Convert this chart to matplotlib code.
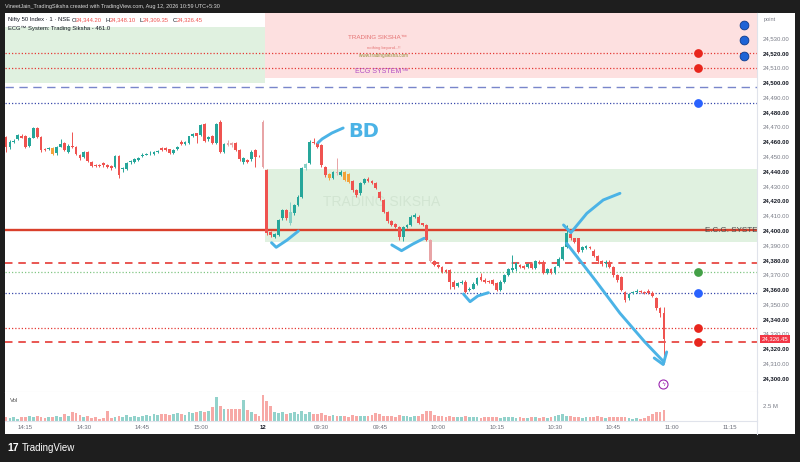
import matplotlib.pyplot as plt
import matplotlib.transforms as mtransforms
from matplotlib.patches import Rectangle
from matplotlib.lines import Line2D

plt.rcParams['font.family'] = ['Liberation Sans', 'DejaVu Sans']

W, H = 800, 462

# 1-minute Nifty 50 candles (prev. session 14:10-15:15, then 12th 09:15-10:58)
opens = [
    24463.2, 24456.4, 24459.8, 24461.6, 24463.8, 24463.8, 24457.1, 24462.5, 24468.9, 24463.2,
    24454.8, 24454.8, 24455.7, 24451.9, 24456.4, 24458.7, 24453.0, 24457.1, 24456.0, 24450.8,
    24449.6, 24452.6, 24446.2, 24444.0, 24444.2, 24445.2, 24444.0, 24443.3, 24442.9, 24450.3,
    24441.3, 24441.3, 24445.8, 24446.2, 24447.5, 24450.0, 24450.8, 24451.2, 24451.8, 24452.6,
    24455.7, 24455.7, 24454.6, 24452.3, 24454.6, 24459.6, 24458.0, 24459.1, 24464.0, 24465.5,
    24464.3, 24471.6, 24461.4, 24463.6, 24458.7, 24473.3, 24453.0, 24458.7, 24458.7, 24458.7,
    24454.2, 24446.2, 24447.4, 24447.9, 24454.2, 24450.3,
    24473.3, 24440.6, 24398.8, 24395.5, 24396.6, 24407.9, 24413.5, 24404.5, 24411.3, 24416.9,
    24422.5, 24441.8, 24445.2, 24459.8, 24458.7, 24457.5, 24442.9, 24437.7, 24435.0, 24439.1,
    24437.2, 24439.1, 24437.7, 24433.2, 24427.1, 24424.8, 24431.6, 24434.5, 24433.2, 24431.6,
    24425.5, 24420.3, 24412.4, 24406.1, 24403.9, 24402.2, 24395.5, 24402.2, 24403.4, 24409.0,
    24409.0, 24404.5, 24403.4, 24393.2, 24379.2, 24376.3, 24375.2, 24372.9, 24372.9, 24365.0,
    24362.3, 24364.3, 24365.0, 24359.4, 24360.5, 24363.9, 24368.0, 24366.6, 24365.7, 24366.1,
    24364.3, 24359.4, 24365.0, 24369.5, 24372.9, 24373.4, 24376.3, 24375.6, 24375.2, 24376.8,
    24374.1, 24378.5, 24378.5, 24370.7, 24373.4, 24370.7, 24375.6, 24380.2, 24388.7, 24397.3,
    24394.4, 24394.4, 24386.5, 24387.6, 24388.7, 24386.0, 24382.4, 24379.2, 24377.5, 24378.5,
    24375.2, 24369.5, 24368.0, 24358.2, 24353.8, 24357.6, 24358.2, 24358.9, 24358.2, 24358.7,
    24357.6, 24353.8, 24347.0, 24344.2,
]
closes = [
    24456.4, 24459.8, 24460.3, 24464.3, 24462.5, 24456.4, 24462.5, 24468.9, 24463.2, 24454.2,
    24454.2, 24455.7, 24451.2, 24456.4, 24458.0, 24454.2, 24457.1, 24456.4, 24451.2, 24448.5,
    24452.6, 24446.9, 24443.5, 24443.3, 24443.3, 24444.0, 24442.9, 24442.2, 24450.3, 24437.2,
    24442.2, 24445.2, 24446.7, 24447.9, 24448.5, 24451.0, 24451.5, 24451.8, 24452.6, 24453.3,
    24454.2, 24454.2, 24452.3, 24454.2, 24456.4, 24458.2, 24459.6, 24463.6, 24465.0, 24463.6,
    24471.1, 24460.5, 24463.2, 24458.7, 24471.8, 24453.0, 24458.2, 24457.6, 24457.6, 24454.2,
    24447.9, 24448.5, 24446.2, 24453.0, 24449.6, 24449.9,
    24442.9, 24397.8, 24396.6, 24397.1, 24406.8, 24413.5, 24407.9, 24412.4, 24416.9, 24422.5,
    24441.8, 24444.5, 24459.8, 24458.7, 24456.4, 24444.0, 24437.2, 24435.0, 24439.1, 24438.4,
    24439.5, 24433.9, 24432.7, 24427.1, 24423.7, 24431.6, 24434.5, 24433.2, 24431.6, 24428.2,
    24421.5, 24412.4, 24406.1, 24403.4, 24402.2, 24395.5, 24402.2, 24403.4, 24409.0, 24410.2,
    24404.5, 24403.4, 24393.2, 24379.0, 24376.3, 24375.2, 24371.8, 24371.8, 24365.0, 24361.6,
    24364.3, 24365.0, 24358.2, 24360.5, 24363.9, 24367.7, 24366.1, 24365.0, 24365.0, 24363.9,
    24359.4, 24365.0, 24369.5, 24373.4, 24374.1, 24377.5, 24375.2, 24374.7, 24376.8, 24374.1,
    24379.2, 24377.9, 24370.7, 24373.4, 24370.7, 24375.2, 24380.8, 24388.7, 24397.8, 24394.4,
    24392.1, 24385.3, 24388.3, 24389.2, 24387.6, 24382.4, 24379.2, 24377.0, 24378.5, 24375.2,
    24369.5, 24366.1, 24359.4, 24352.6, 24356.7, 24358.2, 24358.9, 24358.2, 24357.6, 24357.6,
    24355.3, 24347.0, 24344.2, 24326.45,
]
highs = [
    24464.0, 24461.0, 24461.5, 24465.0, 24465.0, 24464.5, 24463.0, 24469.5, 24469.5, 24463.5,
    24455.5, 24456.5, 24456.0, 24457.0, 24461.6, 24459.5, 24458.0, 24466.5, 24457.0, 24451.5,
    24453.5, 24453.5, 24447.0, 24445.0, 24445.0, 24446.0, 24445.0, 24444.0, 24451.0, 24451.0,
    24443.0, 24446.0, 24447.5, 24448.5, 24449.5, 24452.0, 24452.5, 24453.5, 24453.5, 24454.0,
    24456.5, 24456.5, 24455.0, 24455.0, 24457.0, 24461.0, 24460.5, 24464.0, 24466.0, 24466.0,
    24472.0, 24472.5, 24464.0, 24464.5, 24472.5, 24474.5, 24459.0, 24460.9, 24459.5, 24459.5,
    24455.0, 24449.5, 24448.0, 24454.0, 24455.0, 24451.0,
    24474.5, 24441.5, 24399.5, 24398.0, 24407.5, 24414.5, 24414.5, 24419.2, 24418.0, 24423.5,
    24443.0, 24445.5, 24461.0, 24462.3, 24459.5, 24458.5, 24443.5, 24438.5, 24440.0, 24448.7,
    24440.5, 24440.0, 24438.5, 24434.0, 24428.0, 24432.5, 24435.5, 24436.1, 24434.0, 24432.5,
    24426.5, 24421.0, 24413.0, 24407.0, 24404.5, 24403.0, 24403.0, 24404.0, 24410.0, 24411.7,
    24410.0, 24405.0, 24404.0, 24394.0, 24380.0, 24377.0, 24376.0, 24373.5, 24373.5, 24366.0,
    24365.0, 24366.0, 24366.0, 24361.5, 24365.0, 24368.5, 24370.7, 24367.5, 24366.5, 24367.0,
    24365.0, 24366.0, 24370.5, 24374.5, 24383.1, 24378.5, 24377.0, 24376.5, 24377.5, 24378.0,
    24380.0, 24380.0, 24379.5, 24374.5, 24374.5, 24376.0, 24381.5, 24389.5, 24403.4, 24400.0,
    24395.0, 24395.0, 24389.0, 24390.0, 24389.5, 24387.0, 24383.0, 24380.0, 24379.5, 24379.5,
    24376.0, 24370.5, 24369.0, 24359.0, 24357.5, 24359.0, 24359.9, 24359.5, 24359.0, 24360.0,
    24358.5, 24354.5, 24348.0, 24348.1,
]
lows = [
    24453.0, 24455.0, 24459.0, 24461.0, 24462.0, 24455.5, 24456.0, 24462.0, 24462.5, 24453.0,
    24453.5, 24454.0, 24450.5, 24451.0, 24456.0, 24453.5, 24452.0, 24455.5, 24450.5, 24447.5,
    24449.0, 24446.0, 24442.5, 24442.5, 24442.5, 24443.0, 24442.0, 24441.0, 24442.0, 24435.0,
    24439.0, 24440.5, 24445.0, 24445.5, 24447.0, 24449.5, 24450.5, 24450.5, 24451.0, 24452.0,
    24453.5, 24453.5, 24451.5, 24451.5, 24454.0, 24457.5, 24457.5, 24458.5, 24463.0, 24458.9,
    24463.5, 24459.5, 24460.5, 24458.0, 24458.0, 24452.0, 24452.0, 24457.0, 24456.5, 24453.5,
    24447.0, 24445.0, 24445.5, 24447.0, 24443.0, 24449.5,
    24442.0, 24396.6, 24395.5, 24394.6, 24396.0, 24407.0, 24407.0, 24403.5, 24410.5, 24416.0,
    24422.0, 24441.0, 24444.5, 24458.0, 24455.5, 24443.0, 24436.0, 24434.0, 24434.5, 24437.5,
    24436.5, 24433.0, 24432.0, 24426.0, 24422.5, 24424.0, 24431.0, 24432.5, 24431.0, 24427.5,
    24420.5, 24411.5, 24405.0, 24402.5, 24401.5, 24393.2, 24392.6, 24401.5, 24402.5, 24408.5,
    24404.0, 24402.5, 24392.5, 24378.5, 24375.5, 24374.5, 24371.0, 24371.0, 24360.5, 24360.5,
    24361.5, 24363.5, 24357.5, 24358.5, 24360.0, 24363.0, 24365.5, 24364.0, 24364.0, 24363.0,
    24358.5, 24358.5, 24364.5, 24369.0, 24372.0, 24372.5, 24374.5, 24374.0, 24374.5, 24373.5,
    24373.5, 24377.0, 24370.0, 24370.0, 24370.0, 24370.0, 24375.0, 24379.5, 24388.0, 24393.5,
    24391.5, 24384.5, 24385.5, 24387.0, 24387.0, 24381.5, 24378.5, 24376.0, 24375.2, 24374.5,
    24368.5, 24365.0, 24358.5, 24351.5, 24353.0, 24357.0, 24357.5, 24357.5, 24357.0, 24357.0,
    24354.5, 24346.0, 24341.5, 24309.35,
]
volumes_m = [
    0.7, 0.5, 0.6, 0.4, 0.6, 0.7, 0.8, 0.6, 0.9, 0.7,
    0.5, 0.6, 0.7, 0.9, 0.6, 1.2, 0.9, 1.4, 1.3, 1.0,
    0.7, 0.8, 0.5, 0.6, 0.4, 0.5, 1.6, 0.5, 0.6, 0.8,
    0.6, 1.0, 0.7, 0.8, 0.7, 0.9, 1.0, 0.9, 1.1, 1.0,
    1.1, 1.2, 1.0, 1.1, 1.3, 1.2, 1.0, 1.4, 1.3, 1.5,
    1.6, 1.4, 1.7, 2.3, 3.9, 2.5, 1.9, 2.0, 2.0, 1.9,
    2.0, 3.4, 1.8, 1.5, 1.2, 0.9,
    4.3, 3.2, 2.4, 1.5, 1.3, 1.4, 1.2, 1.3, 1.5, 1.1,
    1.6, 1.2, 1.5, 1.2, 1.1, 1.3, 1.0, 0.8, 1.0, 0.9,
    0.8, 0.9, 0.7, 1.0, 0.9, 0.8, 0.8, 0.9, 1.0, 1.3,
    1.1, 0.9, 0.8, 0.8, 0.7, 1.0, 0.9, 0.8, 0.7, 0.9,
    0.8, 1.1, 1.6, 1.7, 1.0, 0.8, 0.9, 0.7, 0.8, 0.7,
    0.6, 0.7, 0.8, 0.6, 0.7, 0.6, 0.5, 0.6, 0.6, 0.7,
    0.6, 0.5, 0.6, 0.7, 0.6, 0.5, 0.6, 0.5, 0.5, 0.6,
    0.7, 0.5, 0.6, 0.5, 0.6, 0.8, 1.0, 1.2, 0.9, 0.8,
    0.7, 0.6, 0.5, 0.6, 0.7, 0.6, 0.9, 0.6, 0.5, 0.6,
    0.7, 0.6, 0.6, 0.6, 0.5, 0.4, 0.5, 0.4, 0.5, 0.9,
    1.2, 1.5, 1.4, 1.8,
]

# bars painted by the indicator in other colours
orange_bars = [12, 83, 87, 88]
pale_red_bars = [57, 58, 66, 85, 109]
pale_green_bars = [73, 77]

time_ticks = [5, 20, 35, 50, 66, 81, 96, 111, 126, 141, 156, 171, 186]
time_labels = ['14:15', '14:30', '14:45', '15:00', '12', '09:30', '09:45',
               '10:00', '10:15', '10:30', '10:45', '11:00', '11:15']
price_ticks = list(range(24300, 24531, 10))

# ECG system levels
ecg_level = 24400
red_dotted = [24520, 24510, 24333.6]
red_dashed = [24377.6, 24324.5]
blue_dashed = [24496.9]
blue_dotted = [24486.0, 24357.5]
green_dotted = [24371.7]

signal_prices = [24520, 24510, 24486.0, 24371.7, 24357.5, 24333.6, 24324.5]
signal_kinds = ['r', 'r', 'b', 'g', 'b', 'r', 'r']
signal_bar = 177.8
top_dot_prices = [24539.0, 24528.6, 24517.8]
top_dot_bar = 189.6

# zones: bar from, bar to, price low, price high
zone_pink = (66.5, 194, 24502.9, 24560)
zone_green_top = (-1, 66.5, 24499.6, 24537.4)
zone_green = (66.5, 194, 24392.3, 24441.4)

# hand-drawn marks (bar, price)
stroke_bd = [(80.1, 24459.0), (81.2, 24461.7), (83.7, 24465.7), (86.6, 24469.1)]
check_1 = [(68.2, 24391.5), (69.4, 24388.4), (72.2, 24393.3), (75.1, 24399.4)]
check_2 = [(99.1, 24390.0), (101.6, 24386.1), (104.5, 24390.6), (107.4, 24394.5)]
check_3 = [(117.5, 24356.8), (119.2, 24351.6), (121.2, 24355.5), (123.9, 24357.7)]
stroke_v = [(143.2, 24403.5), (145.1, 24398.3), (149.2, 24411.4), (153.4, 24420.4), (157.7, 24424.9)]
arrow_line = [(144.0, 24391.1), (151.3, 24366.3), (157.7, 24343.8), (164.1, 24324.3), (169.0, 24310.8)]
arrow_head = [(166.5, 24313.5), (168.8, 24309.1), (169.7, 24317.6)]
bolt_pos = (168.8, 24295.6)
last_price = 24326.45

UP, DN = '#26a69a', '#ef5350'
PEN = '#4bb3e6'
GRID = '#e0e3eb'


def box(x0, y0, x1, y1):
    return [x0 / W, 1 - y1 / H, (x1 - x0) / W, (y1 - y0) / H]


fig = plt.figure(figsize=(W / 100, H / 100), dpi=100, facecolor='#1e1e1e')
fig.add_artist(Rectangle((5 / W, 1 - 434 / H), 790 / W, 421 / H, transform=fig.transFigure,
                         fc='white', ec='none', zorder=-10))
ax = fig.add_axes(box(5, 13, 757, 392))
axv = fig.add_axes(box(5, 392, 757, 421), sharex=ax)

# zones
ax.add_patch(Rectangle((zone_pink[0], zone_pink[2]), zone_pink[1] - zone_pink[0],
                       zone_pink[3] - zone_pink[2], fc='#fde0e0', ec='none', zorder=0))
ax.add_patch(Rectangle((zone_green_top[0], zone_green_top[2]), zone_green_top[1] - zone_green_top[0],
                       zone_green_top[3] - zone_green_top[2], fc='#e0f1e0', ec='none', zorder=0))
ax.add_patch(Rectangle((zone_green[0], zone_green[2]), zone_green[1] - zone_green[0],
                       zone_green[3] - zone_green[2], fc='#e0f1e0', ec='none', zorder=0))
ax.text(96.6, 24419.3, 'TRADING SIKSHA', fontsize=10, color='#d2e5d2', ha='center', va='center', zorder=0.5)

# levels
for p in red_dotted:
    ax.axhline(p, color='#e53935', lw=0.9, ls=(0, (1, 1.6)), zorder=1)
for p in red_dashed:
    ax.axhline(p, color='#e53935', lw=1.2, ls=(0, (4.5, 3.5)), zorder=1)
for p in blue_dashed:
    ax.axhline(p, color='#7986cb', lw=1.0, ls=(0, (6, 4)), zorder=1)
for p in blue_dotted:
    ax.axhline(p, color='#3949ab', lw=0.9, ls=(0, (1, 1.6)), zorder=1)
for p in green_dotted:
    ax.axhline(p, color='#81c784', lw=0.9, ls=(0, (1, 1.6)), zorder=1)
ax.axhline(ecg_level, color='#d9402b', lw=1.7, zorder=1.2)
ax.text(179.6, ecg_level, 'E.C.G. SYSTEM', fontsize=5.8, color='#4a4a4a', va='center', ha='left',
        zorder=1.3, clip_on=True)

# texts in the pink box
ax.text(95.3, 24530.2, 'TRADING SIKSHA™', fontsize=4.5, color='#e57373', ha='center', va='center')
ax.text(97.0, 24523.4, 'nothing beyond...!!', fontsize=3, color='#e57373', ha='center', va='center')
ax.text(97.0, 24518.3, 'www.tradingsiksha.com', fontsize=3.3, color='#8f8f3a', ha='center', va='center')
ax.text(96.5, 24507.2, 'ECG SYSTEM™', fontsize=5, color='#b14fc5', ha='center', va='center')

# candles
n = len(closes)
idx = list(range(n))
colors = []
for i in idx:
    c = UP if closes[i] >= opens[i] else DN
    if i in orange_bars:
        c = '#f5a23a'
    elif i in pale_red_bars:
        c = '#e8a4a6'
    elif i in pale_green_bars:
        c = '#86d0c6'
    colors.append(c)
ax.vlines(idx, lows, highs, colors=colors, lw=0.7, zorder=3)
bottoms = [min(o, c) for o, c in zip(opens, closes)]
heights = [max(abs(c - o), 0.5) for o, c in zip(opens, closes)]
ax.bar(idx, heights, bottom=bottoms, width=0.72, color=colors, lw=0, zorder=3)

# signal dots
dot_col = {'r': '#e8261d', 'b': '#2962ff', 'g': '#43a047'}
for p, k in zip(signal_prices, signal_kinds):
    ax.plot(signal_bar, p, 'o', ms=6.3, color=dot_col[k], mec='none', zorder=4)
for p in top_dot_prices:
    ax.plot(top_dot_bar, p, 'o', ms=6.3, color='#1e63d6', mec='#0b3a8a', mew=0.6, zorder=4)

# hand-drawn annotations
for s in [stroke_bd, check_1, check_2, check_3, stroke_v, arrow_line, arrow_head]:
    ax.plot([q[0] for q in s], [q[1] for q in s], color=PEN, lw=2.1,
            solid_capstyle='round', solid_joinstyle='round', zorder=6)
ax.text(92.0, 24466.4, 'BD', fontsize=14, color=PEN, ha='center', va='center',
        family=['DejaVu Sans'], weight='bold', zorder=6)
ax.plot(*bolt_pos, 'o', ms=6.5, mfc='white', mec='#9c27b0', mew=0.8, zorder=6)
ax.text(*bolt_pos, 'ϟ', fontsize=4.5, color='#9c27b0', ha='center', va='center',
        family=['DejaVu Sans'], zorder=7)

ax.set_xlim(-0.26, 192.9)
ax.set_ylim(24290.5, 24546.9)

# price scale
ax.yaxis.tick_right()
ax.set_yticks(price_ticks)
ax.set_yticklabels([f'{p:,.2f}' for p in price_ticks])
for p, lab in zip(price_ticks, ax.get_yticklabels()):
    if p % 20 == 0:
        lab.set_fontweight('bold')
        lab.set_color('#131722')
    else:
        lab.set_color('#787b86')
ax.tick_params(axis='y', length=0, pad=4, labelsize=4.3)
ax.tick_params(axis='x', bottom=False, labelbottom=False)
tr = mtransforms.blended_transform_factory(ax.transAxes, ax.transData)
ax.text(1.006, last_price, '24,326.45', transform=tr, fontsize=4.3, color='white', ha='left',
        va='center', clip_on=False, zorder=10,
        bbox=dict(boxstyle='square,pad=0.3', fc='#f23645', ec='none'))

for a in (ax, axv):
    a.spines['top'].set_visible(False)
    a.spines['left'].set_visible(False)
    a.spines['right'].set_color(GRID)
    a.spines['bottom'].set_color(GRID)
    a.spines['right'].set_linewidth(0.8)
    a.spines['bottom'].set_linewidth(0.8)

# volume pane
vcol = [(0.15, 0.65, 0.6, 0.5) if closes[i] >= opens[i] else (0.94, 0.33, 0.31, 0.5) for i in idx]
axv.bar(idx, volumes_m, width=0.72, color=vcol, lw=0)
axv.set_ylim(0, 4.75)
axv.yaxis.tick_right()
axv.set_yticks([2.5])
axv.set_yticklabels(['2.5 M'])
axv.tick_params(axis='y', length=0, pad=4, labelsize=4.3, colors='#787b86')
axv.set_xticks(time_ticks)
axv.set_xticklabels(time_labels)
axv.tick_params(axis='x', length=0, pad=3, labelsize=4.3, colors='#6a6d78')
for lab in axv.get_xticklabels():
    if lab.get_text() == '12':
        lab.set_fontweight('bold')
        lab.set_color('#131722')
axv.text(0.007, 0.72, 'Vol', transform=axv.transAxes, fontsize=4.3, color='#555555', va='center')
ax.set_xlim(-0.26, 192.9)

fig.add_artist(Line2D([757 / W, 757 / W], [1 - 434 / H, 1 - 421 / H], color=GRID, lw=0.8))

# header / footer
fig.text(5 / W, 1 - 6.5 / H, 'VineetJain_TradingSiksha created with TradingView.com, Aug 12, 2026 10:59 UTC+5:30',
         fontsize=4, color='#d8d8d8', va='center')
fig.text(764 / W, 1 - 20 / H, 'point', fontsize=4, color='#787b86', va='center')
legend_parts = [(8, 'Nifty 50 Index · 1 · NSE', '#131722'),
                (72, 'O', '#131722'), (76, '24,344.20', '#ef5350'),
                (106, 'H', '#131722'), (110, '24,348.10', '#ef5350'),
                (140, 'L', '#131722'), (143, '24,309.35', '#ef5350'),
                (173, 'C', '#131722'), (177, '24,326.45', '#ef5350')]
for x, s, c in legend_parts:
    fig.text(x / W, 1 - 20 / H, s, fontsize=4.2, color=c, va='center')
fig.text(8 / W, 1 - 28 / H, 'ECG™ System: Trading Siksha - 461.0', fontsize=4.2, color='#131722', va='center')
fig.text(7 / W, 1 - 448 / H, '17', fontsize=7.5, color='white', weight='bold', va='center')
fig.text(22 / W, 1 - 448 / H, 'TradingView', fontsize=7, color='white', va='center')

fig.savefig('out.png', dpi=100, facecolor=fig.get_facecolor())
